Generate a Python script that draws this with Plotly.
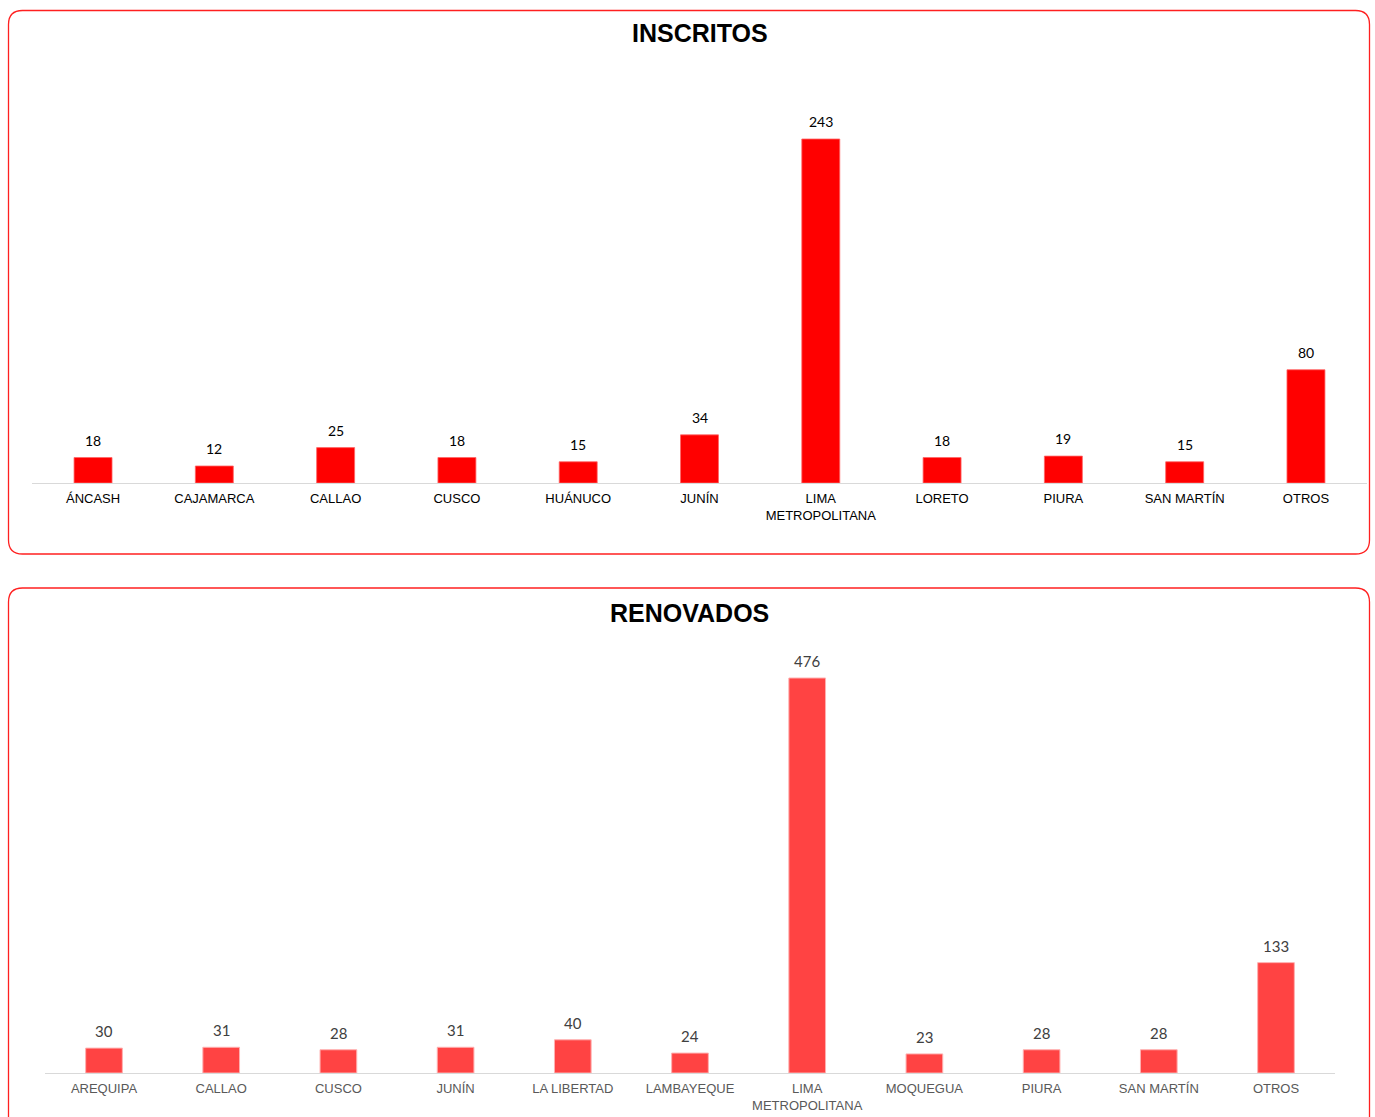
import plotly.graph_objects as go

W, H = 1375, 1117

# ---------------- data ----------------
insc_categories = ["ÁNCASH", "CAJAMARCA", "CALLAO", "CUSCO", "HUÁNUCO", "JUNÍN",
                   "LIMA METROPOLITANA", "LORETO", "PIURA", "SAN MARTÍN", "OTROS"]
insc_values = [18, 12, 25, 18, 15, 34, 243, 18, 19, 15, 80]
insc_ticklabels = ["ÁNCASH", "CAJAMARCA", "CALLAO", "CUSCO", "HUÁNUCO", "JUNÍN",
                   "LIMA<br>METROPOLITANA", "LORETO", "PIURA", "SAN MARTÍN", "OTROS"]

renov_categories = ["AREQUIPA", "CALLAO", "CUSCO", "JUNÍN", "LA LIBERTAD", "LAMBAYEQUE",
                    "LIMA METROPOLITANA", "MOQUEGUA", "PIURA", "SAN MARTÍN", "OTROS"]
renov_values = [30, 31, 28, 31, 40, 24, 476, 23, 28, 28, 133]
renov_ticklabels = ["AREQUIPA", "CALLAO", "CUSCO", "JUNÍN", "LA LIBERTAD", "LAMBAYEQUE",
                    "LIMA<br>METROPOLITANA", "MOQUEGUA", "PIURA", "SAN MARTÍN", "OTROS"]

titles = ["INSCRITOS", "RENOVADOS"]


def px_x(x):
    return x / W


def px_y(y):
    return 1 - y / H


fig = go.Figure()

fig.add_trace(go.Bar(
    x=insc_categories, y=insc_values,
    marker=dict(color="#ff0000", line=dict(color="#ff6666", width=0.8)),
    xaxis="x", yaxis="y", hoverinfo="x+y",
))

fig.add_trace(go.Bar(
    x=renov_categories, y=renov_values,
    marker=dict(color="#ff4343", line=dict(color="#ffb0b0", width=1)),
    xaxis="x2", yaxis="y2", hoverinfo="x+y",
))


def rounded_path(x0, y0, x1, y1, r):
    rx, ry = r / W, r / H
    X0, X1 = px_x(x0), px_x(x1)
    Y0, Y1 = px_y(y0), px_y(y1)  # Y0 top (larger), Y1 bottom
    return (f"M {X0+rx},{Y0} L {X1-rx},{Y0} Q {X1},{Y0} {X1},{Y0-ry} "
            f"L {X1},{Y1+ry} Q {X1},{Y1} {X1-rx},{Y1} "
            f"L {X0+rx},{Y1} Q {X0},{Y1} {X0},{Y1+ry} "
            f"L {X0},{Y0-ry} Q {X0},{Y0} {X0+rx},{Y0} Z")


shapes = [
    dict(type="path", xref="paper", yref="paper", path=rounded_path(8.5, 10.5, 1369.5, 554, 14),
         line=dict(color="#ff2020", width=1.3), layer="below"),
    dict(type="path", xref="paper", yref="paper", path=rounded_path(8.5, 588, 1369.5, 1150, 14),
         line=dict(color="#ff2020", width=1.3), layer="below"),
]

annotations = [
    dict(text=f"<b>{titles[0]}</b>", x=px_x(700), y=px_y(33), xref="paper", yref="paper",
         showarrow=False, xanchor="center", yanchor="middle",
         font=dict(family="Liberation Sans, Arial, sans-serif", size=25, color="#000000")),
    dict(text=f"<b>{titles[1]}</b>", x=px_x(689), y=px_y(613), xref="paper", yref="paper",
         showarrow=False, xanchor="center", yanchor="middle",
         font=dict(family="Liberation Sans, Arial, sans-serif", size=25, color="#000000")),
]

# value labels above bars (through data axes)
for c, v in zip(insc_categories, insc_values):
    annotations.append(dict(text=str(v), x=c, y=v, xref="x", yref="y", showarrow=False,
                            xanchor="center", yanchor="bottom", yshift=7,
                            font=dict(family="Lato, sans-serif", size=14, color="#000000")))
for c, v in zip(renov_categories, renov_values):
    annotations.append(dict(text=str(v), x=c, y=v, xref="x2", yref="y2", showarrow=False,
                            xanchor="center", yanchor="bottom", yshift=6,
                            font=dict(family="Lato, sans-serif", size=15, color="#404040")))

# chart geometry
top_base, top_top = 483, 60
top_scale = (483 - 139) / 243.0
bot_base, bot_top = 1073, 640
bot_scale = (1073 - 678) / 476.0

fig.update_layout(
    width=W, height=H,
    margin=dict(l=0, r=0, t=0, b=0),
    paper_bgcolor="white", plot_bgcolor="white",
    showlegend=False,
    bargap=0.687,
    shapes=shapes, annotations=annotations,
    xaxis=dict(domain=[px_x(32.4), px_x(1366.6)], anchor="y",
               tickmode="array", tickvals=insc_categories, ticktext=insc_ticklabels,
               showline=True, linecolor="#d9d9d9", linewidth=1,
               ticks="outside", ticklen=3, tickcolor="rgba(0,0,0,0)",
               showgrid=False, zeroline=False,
               tickfont=dict(family="Liberation Sans, Arial, sans-serif", size=13, color="#000000")),
    yaxis=dict(domain=[px_y(top_base), px_y(top_top)], anchor="x",
               range=[0, (top_base - top_top) / top_scale], visible=False),
    xaxis2=dict(domain=[px_x(45.4), px_x(1334.6)], anchor="y2",
                tickmode="array", tickvals=renov_categories, ticktext=renov_ticklabels,
                showline=True, linecolor="#d9d9d9", linewidth=1,
                ticks="outside", ticklen=3, tickcolor="rgba(0,0,0,0)",
                showgrid=False, zeroline=False,
                tickfont=dict(family="Liberation Sans, Arial, sans-serif", size=13, color="#595959")),
    yaxis2=dict(domain=[px_y(bot_base), px_y(bot_top)], anchor="x2",
                range=[0, (bot_base - bot_top) / bot_scale], visible=False),
)

fig.write_html("out.html", config={"displayModeBar": False},
               post_script="document.body.style.margin='0';document.body.style.overflow='hidden';")
